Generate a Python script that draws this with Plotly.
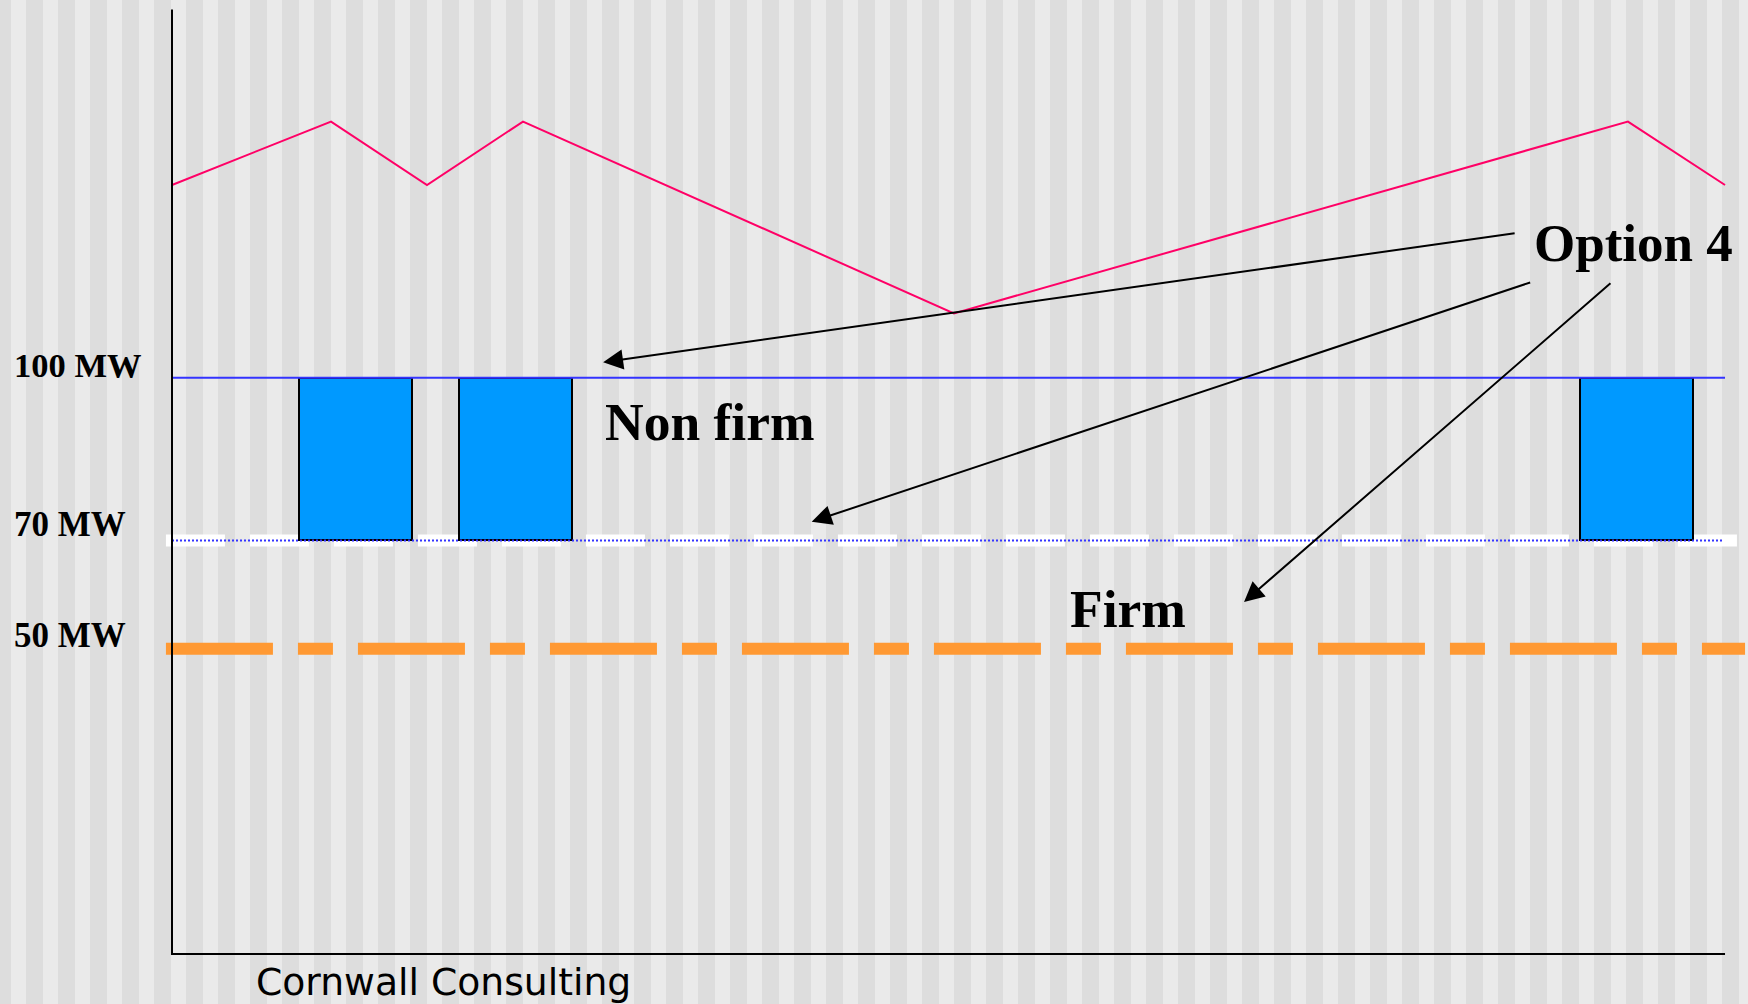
import plotly.graph_objects as go

# ---------------- data ----------------
# time axis is schematic: 0 .. 100 units along the x axis
demand_time = [0, 10.24, 16.42, 22.60, 50.35, 93.75, 100]
demand_mw = [135.6, 147.3, 135.6, 147.3, 111.9, 147.3, 135.6]

nonfirm_start = [8.18, 18.48, 90.66]
nonfirm_end = [15.43, 25.73, 97.91]
nonfirm_base_mw = [70, 70, 70]
nonfirm_top_mw = [100, 100, 100]

level_mw = [100, 70, 50]
level_labels = ["100 MW", "70 MW", "50 MW"]

arrow_tail_x = [86.55, 87.55, 92.72]
arrow_tail_mw = [126.73, 117.69, 117.69]
arrow_head_x = [27.76, 41.19, 69.03]
arrow_head_mw = [102.87, 73.45, 58.63]

callout_texts = ["Option 4", "Non firm", "Firm"]
footer_text = "Cornwall Consulting"

# axis extents (schematic)
X_AXIS = [0, 100]
Y_AXIS = [-6.34, 168.0]

# ---------------- layout geometry ----------------
W, H = 1748, 1004
X_RANGE = [-11.075, 101.48]
Y_RANGE = [-15.57, 169.74]


def px(xp):
    return xp / W


def py(yp):
    return 1 - yp / H


fig = go.Figure()

# non-firm blocks
centers = [(a + b) / 2 for a, b in zip(nonfirm_start, nonfirm_end)]
widths = [b - a for a, b in zip(nonfirm_start, nonfirm_end)]
heights = [t - b for t, b in zip(nonfirm_top_mw, nonfirm_base_mw)]
fig.add_trace(go.Bar(
    x=centers, y=heights, base=nonfirm_base_mw, width=widths,
    marker=dict(color="#0099FF", line=dict(color="#000000", width=2)),
    hoverinfo="skip", showlegend=False))

# 100 MW solid blue line
fig.add_trace(go.Scatter(
    x=X_AXIS, y=[level_mw[0], level_mw[0]], mode="lines",
    line=dict(color="#3333FF", width=2),
    hoverinfo="skip", showlegend=False))

# 70 MW blue dotted line
fig.add_trace(go.Scatter(
    x=[0, 99.87], y=[level_mw[1], level_mw[1]], mode="lines",
    line=dict(color="#3333FF", width=2, dash="2px,2px"),
    hoverinfo="skip", showlegend=False))

# demand line
fig.add_trace(go.Scatter(
    x=demand_time, y=demand_mw, mode="lines",
    line=dict(color="#FF0066", width=2),
    hoverinfo="skip", showlegend=False))

# axis lines
fig.add_trace(go.Scatter(
    x=[X_AXIS[0], X_AXIS[0], X_AXIS[1]], y=[Y_AXIS[1], Y_AXIS[0], Y_AXIS[0]],
    mode="lines", line=dict(color="#000000", width=2),
    hoverinfo="skip", showlegend=False))

# background stripes
shapes = []
for k in range(56):
    x0 = 11 + 32 * k
    shapes.append(dict(type="rect", xref="paper", yref="paper",
                       x0=px(x0), x1=px(x0 + 15), y0=0, y1=1,
                       fillcolor="#EAEAEA", line=dict(width=0), layer="below"))

# 70 MW white dashed band (below the blocks)
shapes.append(dict(type="line", xref="x", yref="y", x0=-0.39, x1=100.77,
                   y0=level_mw[1], y1=level_mw[1], layer="below",
                   line=dict(color="#FFFFFF", width=12, dash="59px,25px")))
# 50 MW orange long-dash-dot line
shapes.append(dict(type="line", xref="x", yref="y", x0=-0.39, x1=101.29,
                   y0=level_mw[2], y1=level_mw[2], layer="below",
                   line=dict(color="#FF9933", width=12,
                             dash="107px,25px,35px,25px")))

annotations = []
serif = "Liberation Serif, Times New Roman, serif"

# level labels
label_pos = [(12, 364.5, 34.5), (12, 524.5, 35), (12, 635.5, 35)]
for txt, (lx, ly, sz) in zip(level_labels, label_pos):
    annotations.append(dict(xref="paper", yref="paper", x=px(lx), y=py(ly),
                            xanchor="left", yanchor="middle", showarrow=False,
                            text="<b>%s</b>" % txt,
                            font=dict(family=serif, size=sz, color="#000000")))

# callouts
callout_pos = [(1532, 243.1, 53), (603, 422.0, 53.5), (1068, 609.1, 53.5)]
for txt, (lx, ly, sz) in zip(callout_texts, callout_pos):
    annotations.append(dict(xref="paper", yref="paper", x=px(lx), y=py(ly),
                            xanchor="left", yanchor="middle", showarrow=False,
                            text="<b>%s</b>" % txt,
                            font=dict(family=serif, size=sz, color="#000000")))

# footer
annotations.append(dict(xref="paper", yref="paper", x=px(254), y=py(982.0),
                        xanchor="left", yanchor="middle", showarrow=False,
                        text=footer_text,
                        font=dict(family="DejaVu Sans, Verdana, sans-serif",
                                  size=37.7, color="#000000")))

# arrows
for tx, ty, hx, hy in zip(arrow_tail_x, arrow_tail_mw, arrow_head_x, arrow_head_mw):
    annotations.append(dict(x=hx, y=hy, ax=tx, ay=ty, xref="x", yref="y",
                            axref="x", ayref="y", text="", showarrow=True,
                            arrowhead=2, arrowsize=2, arrowwidth=2,
                            arrowcolor="#000000"))

fig.update_layout(
    width=W, height=H, autosize=False,
    margin=dict(l=0, r=0, t=0, b=0, pad=0),
    paper_bgcolor="#DDDDDD", plot_bgcolor="#DDDDDD",
    showlegend=False,
    xaxis=dict(range=X_RANGE, visible=False, fixedrange=True),
    yaxis=dict(range=Y_RANGE, visible=False, fixedrange=True),
    shapes=shapes, annotations=annotations,
    bargap=0,
)

fig.write_html("out.html", config={"displayModeBar": False},
               post_script="document.body.style.margin='0px';document.body.style.overflow='hidden';")
